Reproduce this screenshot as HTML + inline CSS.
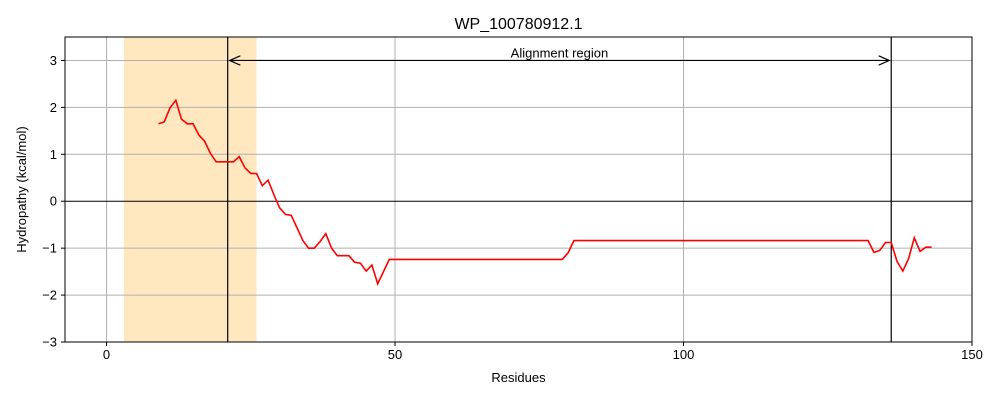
<!DOCTYPE html>
<html><head><meta charset="utf-8"><style>
body{margin:0;background:#fff;}
svg text{font-family:"Liberation Sans","DejaVu Sans",sans-serif;}
</style></head><body>
<svg id="chart" width="1000" height="400" xmlns="http://www.w3.org/2000/svg"></svg>
<script>
const title = "WP_100780912.1";
const startResidue = 9;
const hydropathy = [
1.65,1.69,1.99,2.15,1.75,1.65,1.65,1.41,1.28,1.02,
0.84,0.84,0.84,0.84,0.95,0.71,0.59,0.59,0.33,0.45,
0.14,-0.14,-0.28,-0.30,-0.56,-0.83,-1.0,-1.0,-0.86,-0.69,
-1.0,-1.16,-1.16,-1.16,-1.30,-1.32,-1.49,-1.36,-1.76,-1.50,
-1.24,
-1.24,-1.24,-1.24,-1.24,-1.24,-1.24,-1.24,-1.24,-1.24,-1.24,
-1.24,-1.24,-1.24,-1.24,-1.24,-1.24,-1.24,-1.24,-1.24,-1.24,
-1.24,-1.24,-1.24,-1.24,-1.24,-1.24,-1.24,-1.24,-1.24,-1.24,
-1.1,-0.84,
-0.84,-0.84,-0.84,-0.84,-0.84,-0.84,-0.84,-0.84,-0.84,-0.84,
-0.84,-0.84,-0.84,-0.84,-0.84,-0.84,-0.84,-0.84,-0.84,-0.84,
-0.84,-0.84,-0.84,-0.84,-0.84,-0.84,-0.84,-0.84,-0.84,-0.84,
-0.84,-0.84,-0.84,-0.84,-0.84,-0.84,-0.84,-0.84,-0.84,-0.84,
-0.84,-0.84,-0.84,-0.84,-0.84,-0.84,-0.84,-0.84,-0.84,-0.84,
-0.84,
-1.09,-1.05,-0.88,-0.88,-1.28,-1.49,-1.23,-0.78,-1.07,-0.98,-0.98];
const xTicks = [0,50,100,150];
const yTicks = [-3,-2,-1,0,1,2,3];
const shadeRange = [3,26];
const alignRange = [21,136];
const alignLabel = "Alignment region";

const L=65,R=972,T=37,B=342;
const xmin=-7.2,xmax=150, ymin=-3, ymax=3.5;
const X=v=>L+(v-xmin)/(xmax-xmin)*(R-L);
const Y=v=>B-(v-ymin)/(ymax-ymin)*(B-T);
const svg=document.getElementById('chart');
const NS="http://www.w3.org/2000/svg";
function mk(tag,attrs,parent){const e=document.createElementNS(NS,tag);for(const k in attrs)e.setAttribute(k,attrs[k]);(parent||svg).appendChild(e);return e;}

let e=mk('rect',{x:X(shadeRange[0]),y:T,width:X(shadeRange[1])-X(shadeRange[0]),height:B-T,fill:'#ffe8c0'});



xTicks.forEach(t=>{
  let g=mk('line',{x1:X(t),x2:X(t),y1:T,y2:B,stroke:'#b0b0b0','stroke-width':1});
  
  
  mk('line',{x1:X(t),x2:X(t),y1:B,y2:B+4,stroke:'#000'});
  let tx=mk('text',{x:X(t),y:B+17,'text-anchor':'middle','font-size':13});
  tx.textContent=t;
  
  
});
yTicks.forEach(t=>{
  let g=mk('line',{x1:L,x2:R,y1:Y(t),y2:Y(t),stroke:t===0?'#000':'#b0b0b0','stroke-width':1});
  
  
  mk('line',{x1:L-4,x2:L,y1:Y(t),y2:Y(t),stroke:'#000'});
  let tx=mk('text',{x:L-8,y:Y(t)+4.5,'text-anchor':'end','font-size':13});
  tx.textContent=t<0?'\u2212'+Math.abs(t):t;
  
  
});
alignRange.forEach(r=>{
  let v=mk('line',{x1:X(r),x2:X(r),y1:T,y2:B,stroke:'#000','stroke-width':1.2});
  
  
});
mk('defs',{}).innerHTML='<marker id="ah" markerWidth="10" markerHeight="8" refX="9" refY="4" orient="auto-start-reverse"><path d="M0,0 L9,4 L0,8" fill="none" stroke="#000"/></marker>';
let ar=mk('line',{x1:X(alignRange[0])+2,x2:X(alignRange[1])-2,y1:Y(3),y2:Y(3),stroke:'#000','stroke-width':1.2,'marker-start':'url(#ah)','marker-end':'url(#ah)'});


let al=mk('text',{x:X((alignRange[0]+alignRange[1])/2),y:Y(3)-3,'text-anchor':'middle','font-size':13});
al.textContent=alignLabel;



const pts=hydropathy.map((v,i)=>X(startResidue+i).toFixed(1)+','+Y(v).toFixed(1)).join(' ');
let pl=mk('polyline',{points:pts,fill:'none',stroke:'#ff0000','stroke-width':1.6});



let fr=mk('rect',{x:L,y:T,width:R-L,height:B-T,fill:'none',stroke:'#000','stroke-width':1});



let tt=mk('text',{x:(L+R)/2,y:29,'text-anchor':'middle','font-size':16});
tt.textContent=title;


let xl=mk('text',{x:(L+R)/2,y:382,'text-anchor':'middle','font-size':13});
xl.textContent='Residues';


let yl=mk('text',{x:0,y:0,'text-anchor':'middle','font-size':13,transform:`translate(26,${(T+B)/2}) rotate(-90)`});
yl.textContent='Hydropathy (kcal/mol)';


</script>
</body></html>
